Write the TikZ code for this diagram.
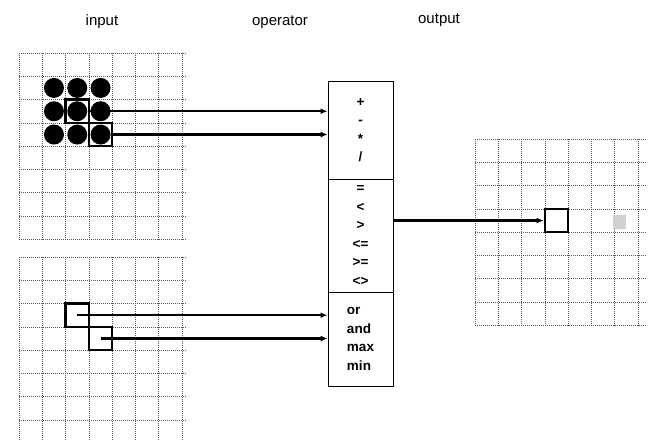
\documentclass[tikz,border=0pt]{standalone}
\usepackage{fontspec}
\setmainfont{Liberation Sans}
\usetikzlibrary{arrows.meta}
\begin{document}
\begin{tikzpicture}[x=1pt,y=-1pt,
  gridline/.style={black!65,line width=0.7pt,dash pattern=on 1pt off 1pt},
  cellbox/.style={draw,line width=2.5pt,minimum size=23.3pt,inner sep=0pt},
  dotcell/.style={circle,fill=black,minimum size=20pt,inner sep=0pt},
  opbox/.style={draw,line width=0.9pt,minimum width=65pt,inner sep=0pt,font=\bfseries\fontsize{13.5}{18.5}\selectfont},
  conn/.style={line width=2.2pt,-{Latex[length=7pt,width=6pt]}},
  title/.style={font=\fontsize{15}{17}\selectfont}]
\useasboundingbox (0,0) rectangle (652,441);
% titles
\node[title] (tin) at (102,22) {input};
\node[title] (top) at (280,22) {operator};
\node[title] (tout) at (439,20) {output};
% top-left grid
\foreach \i in {0,...,7} \draw[gridline] (19+23.3*\i,53) -- (19+23.3*\i,240);
\foreach \j in {0,...,8} \draw[gridline] (19,53+23.3*\j) -- (186,53+23.3*\j);
% bottom-left grid
\foreach \i in {0,...,7} \draw[gridline] (19+23.3*\i,257) -- (19+23.3*\i,441);
\foreach \j in {0,...,7} \draw[gridline] (19,257+23.3*\j) -- (186,257+23.3*\j);
% right grid
\foreach \i in {0,...,7} \draw[gridline] (475+23.3*\i,139) -- (475+23.3*\i,326);
\foreach \j in {0,...,8} \draw[gridline] (475,139+23.3*\j) -- (646,139+23.3*\j);
% circles
\foreach \c in {1,2,3} \foreach \r in {1,2,3}
  \node[dotcell] (d\c\r) at (19+23.3*\c+11.65,53+23.3*\r+11.65) {};
% boxes
\node[cellbox] (b1) at (77.25,111.25) {};
\node[cellbox] (b2) at (100.55,134.55) {};
\node[cellbox] (b3) at (77.25,315.25) {};
\node[cellbox] (b4) at (100.55,338.55) {};
\node[cellbox] (b5) at (556.55,220.55) {};
\fill[black!18] (613,215) rectangle (626,229);
% operator box
\node[opbox,minimum height=98pt,align=center] (op1) at (360.5,130) {+\\-\\*\\/};
\node[opbox,minimum height=113pt,align=center] (op2) at (360.5,235.5) {=\\<\\>\\<=\\>=\\<>};
\node[opbox,minimum height=94pt,align=left] (op3) at (360.5,339) {or\\and\\max\\min};
% connectors
\draw[conn] (b1.east) -- (b1.east -| op1.west);
\draw[conn] (b2.east) -- (b2.east -| op1.west);
\draw[conn] (b3.center) -- (b3.center -| op3.west);
\draw[conn] (b4.center) -- (b4.center -| op3.west);
\draw[conn] (b5.west -| op2.east) -- (b5.west);
\end{tikzpicture}
\end{document}
